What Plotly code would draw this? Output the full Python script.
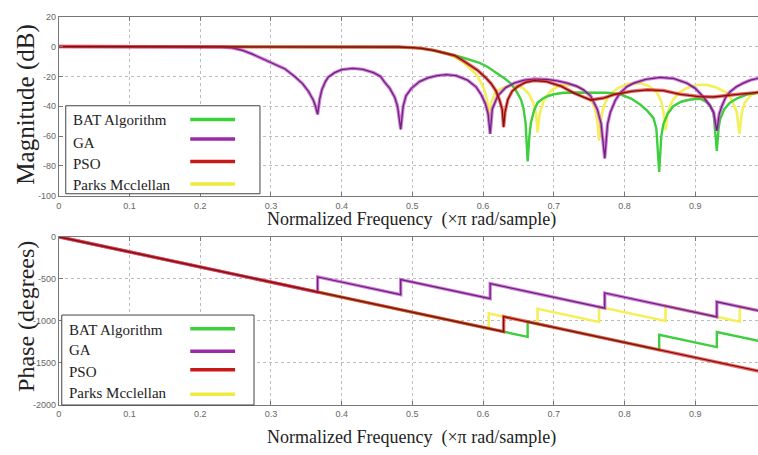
import plotly.graph_objects as go

# ---------------- tick labels ----------------
freq_ticks = [0, 0.1, 0.2, 0.3, 0.4, 0.5, 0.6, 0.7, 0.8, 0.9]
freq_tick_text = ["0", "0.1", "0.2", "0.3", "0.4", "0.5", "0.6", "0.7", "0.8", "0.9"]
mag_ticks = [20, 0, -20, -40, -60, -80, -100]
mag_tick_text = ["20", "0", "-20", "-40", "-60", "-80", "-100"]
phase_ticks = [0, -500, -1000, -1500, -2000]
phase_tick_text = ["0", "-500", "-1000", "-1500", "-2000"]

series_names = ["BAT Algorithm", "GA", "PSO", "Parks Mcclellan"]

# ---------------- magnitude responses (dB) ----------------
bat_mag_f = [0, 0.1, 0.2, 0.3, 0.4, 0.45, 0.48, 0.50, 0.513, 0.53, 0.545, 0.56, 0.572,
             0.583, 0.595, 0.6066, 0.6207, 0.63, 0.639, 0.646, 0.6535, 0.657, 0.66, 0.663,
             0.6655, 0.6676, 0.672, 0.677, 0.684, 0.691, 0.70, 0.714, 0.73, 0.752, 0.775,
             0.794, 0.81, 0.8225, 0.832, 0.841, 0.845, 0.849,
             0.852, 0.855, 0.861, 0.869, 0.88, 0.893, 0.907, 0.915, 0.921, 0.926, 0.9305,
             0.933, 0.935, 0.941, 0.949, 0.96, 0.973, 0.989]
bat_mag_db = [0, 0, 0, 0, 0, -0.1, -0.3, -0.7, -1.2, -2.5, -4, -6, -7.5,
              -9, -11, -13.7, -18, -21.3, -24.6, -29, -35.5, -41, -50.8, -77,
              -60, -51, -43, -37.7, -35, -33.3, -32, -31, -30.8, -31, -31,
              -32, -35, -39, -43, -48, -55, -84,
              -60, -52, -45, -40, -37, -35.5, -35, -37, -39.7, -45, -70,
              -55, -49, -42, -37.7, -34.5, -32.2, -31]

ga_mag_f = [0, 0.05, 0.10, 0.15, 0.20, 0.23, 0.245, 0.26, 0.273, 0.285, 0.297, 0.31, 0.32,
            0.334, 0.345, 0.353, 0.36, 0.363, 0.366,
            0.369, 0.372, 0.377, 0.381, 0.39, 0.40, 0.416, 0.43, 0.445, 0.455, 0.461,
            0.468, 0.475, 0.479, 0.4835,
            0.487, 0.491, 0.4986, 0.51, 0.522, 0.535, 0.548, 0.562, 0.578, 0.59, 0.597,
            0.603, 0.607, 0.610,
            0.613, 0.6207, 0.632, 0.644, 0.658, 0.672, 0.69, 0.705, 0.719, 0.732, 0.742,
            0.752, 0.7615, 0.767, 0.772,
            0.776, 0.780, 0.787, 0.794, 0.803, 0.813, 0.83, 0.851, 0.87, 0.888, 0.90,
            0.911, 0.92, 0.926, 0.9305,
            0.934, 0.9376, 0.943, 0.949, 0.958, 0.968, 0.978, 0.989]
ga_mag_db = [0, 0, 0, 0, -0.1, -0.3, -0.8, -2.5, -4.9, -7.5, -10.4, -13, -15,
             -20.2, -25, -30, -36, -40, -45.5,
             -35, -29, -23.5, -20.5, -17.5, -15.5, -14.6, -15.3, -17.5, -20, -24,
             -28, -34, -40, -55.5,
             -40, -33, -28, -23.5, -21, -19.5, -18.8, -19.5, -22.5, -27, -32,
             -38, -45, -58.5,
             -42, -33, -27.5, -24.5, -22.5, -21.8, -22, -23, -24.5, -26.5, -29,
             -33, -42, -52, -75,
             -52, -44, -36, -31, -27, -24.5, -22, -20.7, -21.5, -24.5, -28,
             -33.5, -39, -44, -56.5,
             -45, -40, -34, -30.5, -27, -24.5, -22.5, -21.3]

pso_mag_f = [0, 0.1, 0.2, 0.3, 0.4, 0.45, 0.48, 0.50, 0.513, 0.53, 0.545, 0.56, 0.5737,
             0.5925, 0.603, 0.611, 0.618, 0.623, 0.627, 0.629,
             0.631, 0.635, 0.641, 0.649, 0.66, 0.672, 0.69, 0.71, 0.73, 0.752, 0.77,
             0.785, 0.81, 0.832, 0.855, 0.879, 0.905, 0.926, 0.95, 0.97, 0.989]
pso_mag_db = [0, 0, 0, 0, 0, -0.1, -0.3, -0.7, -1.2, -2.5, -4, -6, -10,
              -16, -20.5, -24.6, -29.5, -35.5, -42, -54,
              -44, -35.5, -30, -26.8, -24, -22.8, -23.5, -26.5, -31.5, -35.8, -34.5,
              -32.2, -30, -29, -29.5, -32, -33.5, -33.8, -32.5, -31.5, -30.7]

pm_mag_f = [0, 0.1, 0.2, 0.3, 0.4, 0.45, 0.48, 0.50, 0.513, 0.53, 0.545, 0.555, 0.569,
            0.587, 0.5925, 0.601, 0.606, 0.608,
            0.611, 0.617, 0.626, 0.637, 0.648, 0.657, 0.665, 0.671, 0.675, 0.677,
            0.680, 0.686, 0.696, 0.707, 0.719, 0.73, 0.738, 0.745, 0.752, 0.7585,
            0.7615, 0.764,
            0.767, 0.7705, 0.7756, 0.782, 0.79, 0.805, 0.8225, 0.835, 0.846, 0.852,
            0.855, 0.858,
            0.861, 0.864, 0.869, 0.878, 0.888, 0.902, 0.9165, 0.93, 0.9446, 0.952,
            0.9587, 0.9624,
            0.966, 0.970, 0.978, 0.989]
pm_mag_db = [0, 0, 0, 0, 0, -0.1, -0.3, -0.7, -1.2, -2.5, -4, -6, -9.3,
             -17, -20.2, -28, -36, -48,
             -38, -31, -28, -26.5, -26.5, -28, -32, -38, -45, -57.5,
             -45, -36, -29.5, -26.5, -25.7, -26.2, -27.5, -30.5, -35, -42,
             -50, -63,
             -48, -40, -35, -31, -28, -25, -24.6, -26.5, -31, -37,
             -44, -56,
             -45, -40, -35.5, -30.5, -27.9, -25.8, -25.7, -27.5, -31, -36,
             -44, -58.5,
             -44, -37.7, -33, -30]

# ---------------- phase responses (degrees) ----------------
bat_ph_f = [0, 0.663, 0.663, 0.849, 0.849, 0.9305, 0.9305, 0.989]
bat_ph_deg = [0, -1193, -1013, -1348, -1168, -1315, -1135, -1240]

ga_ph_f = [0, 0.366, 0.366, 0.4835, 0.4835, 0.61, 0.61, 0.772, 0.772, 0.9305, 0.9305, 0.989]
ga_ph_deg = [0, -659, -479, -690, -510, -738, -558, -850, -670, -955, -775, -880]

pso_ph_f = [0, 0.629, 0.629, 0.989]
pso_ph_deg = [0, -1132, -952, -1600]

pm_ph_f = [0, 0.608, 0.608, 0.677, 0.677, 0.764, 0.764, 0.858, 0.858, 0.963, 0.963, 0.989]
pm_ph_deg = [0, -1094, -914, -1039, -859, -1015, -835, -1004, -824, -1013, -833, -880]

# ---------------- styling ----------------
W, H = 758, 455
GREEN = "#3fcf3f"
PURPLE_GLOW = "#c447d4"
PURPLE = "#6a2575"
RED_GLOW = "#ec2a24"
RED = "#7a1010"
YELLOW = "#f3ef4a"
SERIF = "Liberation Serif, Times New Roman, serif"
SANS = "Liberation Sans, Arial, sans-serif"


def px_x(p):
    return p / W


def px_y(p):
    return 1 - p / H


fig = go.Figure()


def add_line(f, v, color, width, xa, ya, opacity=1.0):
    fig.add_trace(go.Scatter(
        x=f, y=v, mode="lines", xaxis=xa, yaxis=ya, showlegend=False,
        hoverinfo="skip", opacity=opacity,
        line=dict(color=color, width=width)))


# magnitude panel: yellow, green, then the darker purple and red on top
add_line(pm_mag_f, pm_mag_db, YELLOW, 2.6, "x", "y", 0.9)
add_line(bat_mag_f, bat_mag_db, GREEN, 2.4, "x", "y")
add_line(ga_mag_f, ga_mag_db, PURPLE_GLOW, 3.4, "x", "y", 0.7)
add_line(ga_mag_f, ga_mag_db, PURPLE, 1.3, "x", "y")
add_line(pso_mag_f, pso_mag_db, RED_GLOW, 3.4, "x", "y", 0.7)
add_line(pso_mag_f, pso_mag_db, RED, 1.3, "x", "y")

# phase panel
add_line(pm_ph_f, pm_ph_deg, YELLOW, 2.6, "x2", "y2", 0.9)
add_line(bat_ph_f, bat_ph_deg, GREEN, 2.4, "x2", "y2")
add_line(ga_ph_f, ga_ph_deg, PURPLE_GLOW, 3.4, "x2", "y2", 0.7)
add_line(ga_ph_f, ga_ph_deg, PURPLE, 1.3, "x2", "y2")
add_line(pso_ph_f, pso_ph_deg, RED_GLOW, 3.4, "x2", "y2", 0.7)
add_line(pso_ph_f, pso_ph_deg, RED, 1.3, "x2", "y2")

x_range = [0, 702 / 710]
x_domain = [px_x(56), 1.0]

common_x = dict(
    range=x_range, domain=x_domain, tickvals=freq_ticks, ticktext=freq_tick_text,
    ticks="inside", ticklen=4, tickcolor="#777", showline=True, linecolor="#777",
    linewidth=1, mirror="ticks", showgrid=True, gridcolor="#bdbdbd", griddash="dot",
    gridwidth=1, zeroline=False, tickfont=dict(family=SANS, size=9, color="#666"),
    ticklabelstandoff=1)
common_y = dict(
    ticks="inside", ticklen=4, tickcolor="#777", showline=True, linecolor="#777",
    linewidth=1, mirror=False, showgrid=True, gridcolor="#bdbdbd", griddash="dot",
    gridwidth=1, zeroline=False, tickfont=dict(family=SANS, size=9, color="#666"))

fig.update_layout(
    width=W, height=H, margin=dict(l=0, r=0, t=0, b=0),
    paper_bgcolor="white", plot_bgcolor="white", showlegend=False,
    xaxis=dict(anchor="y", **common_x),
    yaxis=dict(anchor="x", domain=[px_y(195), px_y(12)], range=[-100, 20],
               tickvals=mag_ticks, ticktext=mag_tick_text, **common_y),
    xaxis2=dict(anchor="y2", **common_x),
    yaxis2=dict(anchor="x2", domain=[px_y(408.5), px_y(237)], range=[-2000, 0],
                tickvals=phase_ticks, ticktext=phase_tick_text, **common_y),
)

annotations = []
shapes = []

# axis titles
xlabel = "Normalized Frequency\u00a0\u00a0(\u00d7\u03c0 rad/sample)"
for ycen in (219, 442):
    annotations.append(dict(
        text=xlabel, xref="paper", yref="paper", x=px_x(410), y=px_y(ycen),
        xanchor="center", yanchor="middle", showarrow=False,
        font=dict(family=SERIF, size=18, color="#222")))
annotations.append(dict(
    text="Magnitude (dB)", xref="paper", yref="paper", x=px_x(23), y=px_y(102),
    xanchor="center", yanchor="middle", textangle=-90, showarrow=False,
    font=dict(family=SERIF, size=25, color="#222")))
annotations.append(dict(
    text="Phase (degrees)", xref="paper", yref="paper", x=px_x(23), y=px_y(318),
    xanchor="center", yanchor="middle", textangle=-90, showarrow=False,
    font=dict(family=SERIF, size=24, color="#222")))

# hand-built legends: text on the left, line sample on the right
legend_colors = ["#3ad23a", "#9b2aa8", "#c81818", "#efeb3c"]
legend_boxes = [
    dict(box=(63, 103, 258, 193), text_y=[118, 141, 163, 184], line_y=[117, 137, 160, 183]),
    dict(box=(59, 317, 252, 409), text_y=[332, 353, 375, 397], line_y=[331, 354, 373, 398]),
]
for lg in legend_boxes:
    x0, y0, x1, y1 = lg["box"]
    shapes.append(dict(type="rect", xref="paper", yref="paper",
                       x0=px_x(x0), x1=px_x(x1), y0=px_y(y1), y1=px_y(y0),
                       fillcolor="white", line=dict(color="#444", width=1), layer="above"))
    for name, color, ty, ly in zip(series_names, legend_colors, lg["text_y"], lg["line_y"]):
        annotations.append(dict(
            text=name, xref="paper", yref="paper", x=px_x(x0 + 5), y=px_y(ty),
            xanchor="left", yanchor="middle", showarrow=False,
            font=dict(family=SERIF, size=15, color="#222")))
        shapes.append(dict(type="line", xref="paper", yref="paper",
                           x0=px_x(188), x1=px_x(233), y0=px_y(ly), y1=px_y(ly),
                           line=dict(color=color, width=3.5), layer="above"))

fig.update_layout(annotations=annotations, shapes=shapes)

fig.write_html("out.html")
